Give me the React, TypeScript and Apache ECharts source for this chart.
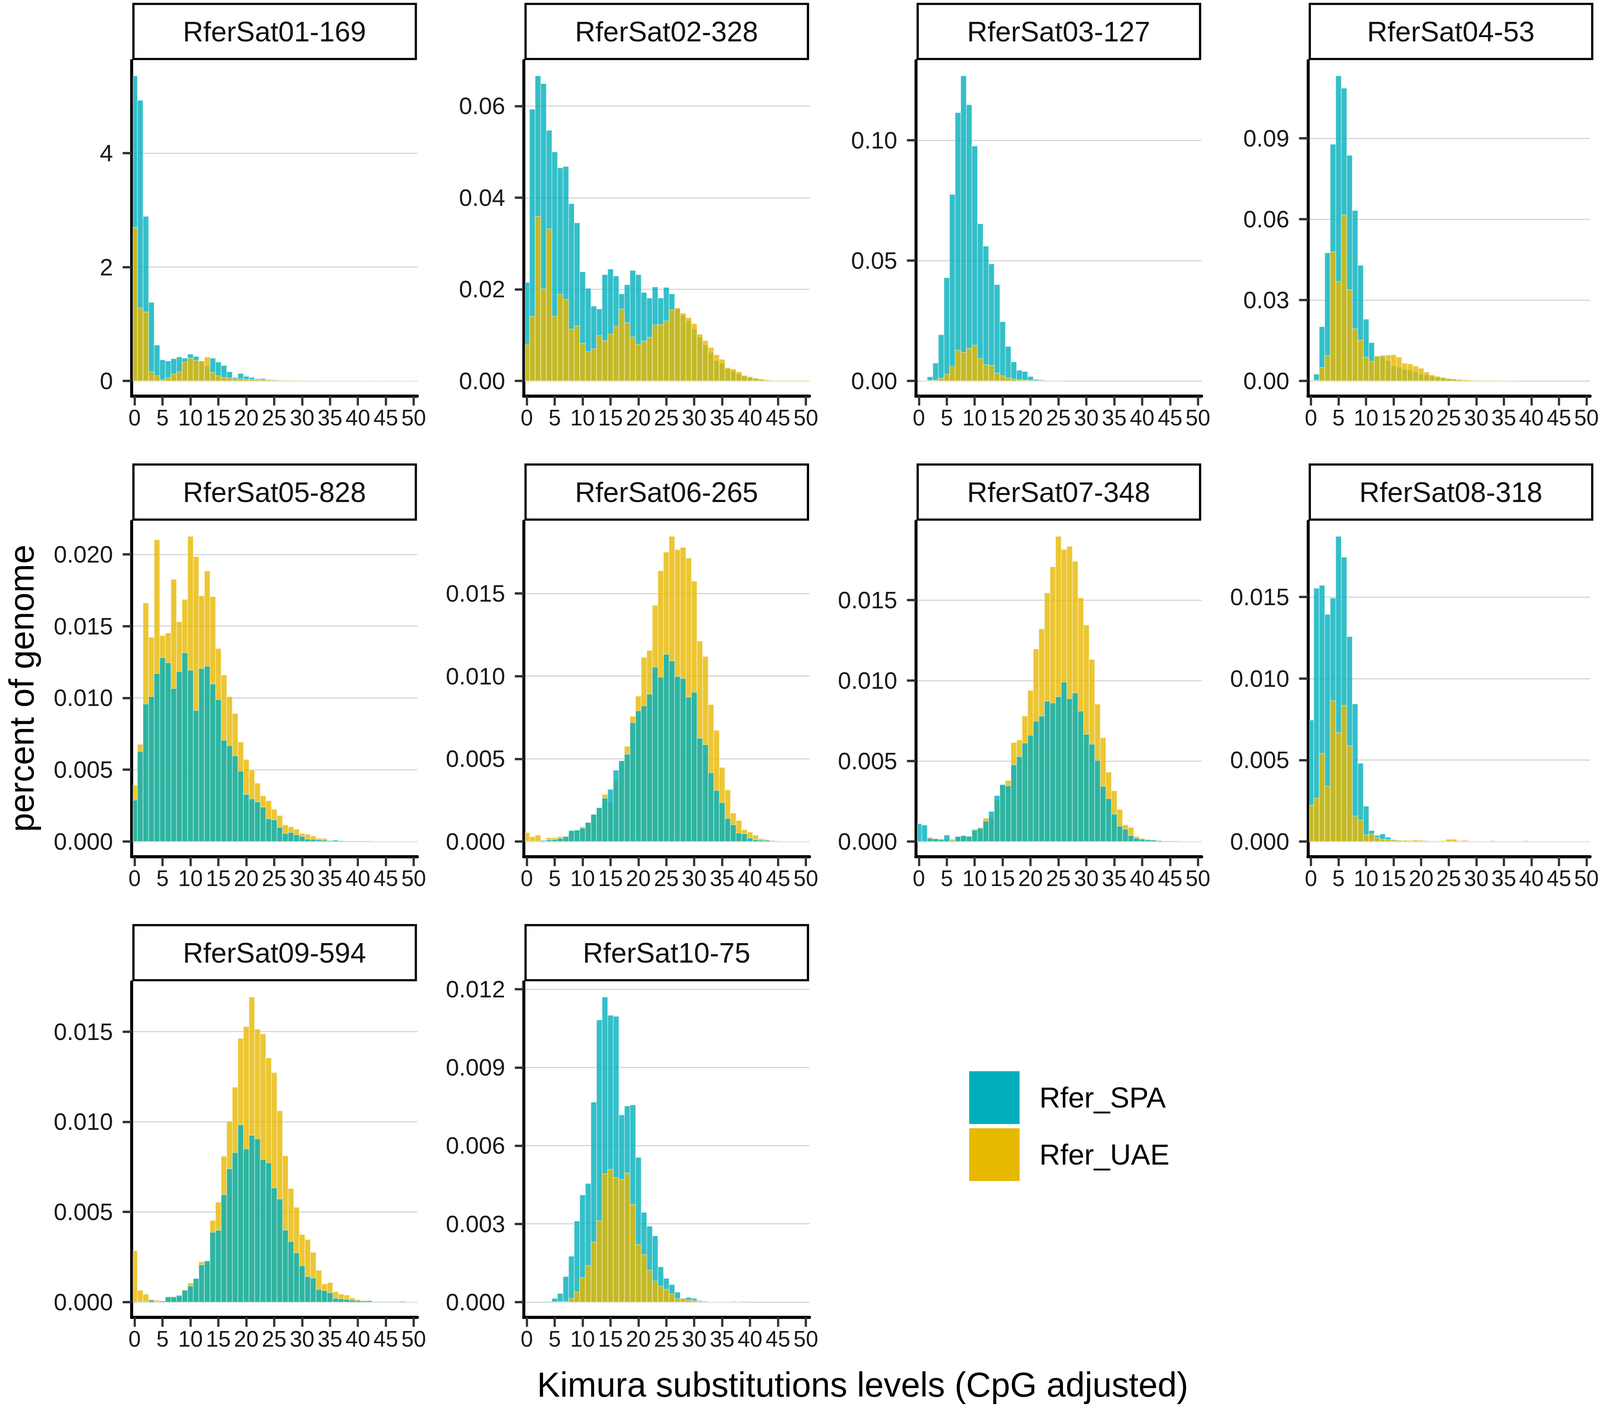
import React, { useEffect, useRef } from "react";
import * as echarts from "echarts";

// ---------- data ----------
const TITLES = [
  "RferSat01-169", "RferSat02-328", "RferSat03-127", "RferSat04-53", "RferSat05-828",
  "RferSat06-265", "RferSat07-348", "RferSat08-318", "RferSat09-594", "RferSat10-75",
];
const SERIES_NAMES = ["Rfer_SPA", "Rfer_UAE"];
const BINS = [0, 1, 2, 3, 4, 5, 6, 7, 8, 9, 10, 11, 12, 13, 14, 15, 16, 17, 18, 19, 20, 21, 22, 23, 24, 25,
  26, 27, 28, 29, 30, 31, 32, 33, 34, 35, 36, 37, 38, 39, 40, 41, 42, 43, 44, 45, 46, 47, 48, 49, 50];
const X_TICKS = [0, 5, 10, 15, 20, 25, 30, 35, 40, 45, 50];

const SAT01_SPA = [5.36, 4.93, 2.89, 1.38, 0.63, 0.37, 0.35, 0.39, 0.42, 0.40,
  0.47, 0.43, 0.35, 0.26, 0.40, 0.33, 0.27, 0.16, 0.06, 0.13,
  0.08, 0.06, 0.035, 0.04, 0.025, 0.02, 0.015, 0.012, 0.01, 0.007,
  0.005, 0.004, 0.003, 0.003, 0.002, 0.002, 0.002, 0.001, 0.001, 0.001,
  0.001, 0.001, 0.001, 0.001, 0.001, 0.001, 0.001, 0.001, 0.001, 0.001, 0.001];
const SAT01_UAE = [2.70, 1.28, 1.21, 0.16, 0.09, 0.02, 0.06, 0.12, 0.16, 0.33,
  0.40, 0.36, 0.35, 0.42, 0.15, 0.09, 0.06, 0.05, 0.04, 0.04,
  0.03, 0.025, 0.02, 0.02, 0.015, 0.012, 0.01, 0.008, 0.006, 0.005,
  0.004, 0.003, 0.003, 0.002, 0.002, 0.002, 0.001, 0.001, 0.001, 0.001,
  0.001, 0.001, 0.001, 0.001, 0.001, 0.001, 0.001, 0.001, 0.001, 0.001, 0.001];
const SAT01_YTICKS = [0, 2, 4];

const SAT02_SPA = [0.0215, 0.0593, 0.0666, 0.0649, 0.0547, 0.0500, 0.0465, 0.0468, 0.0387, 0.0345,
  0.0238, 0.0202, 0.0163, 0.0157, 0.0232, 0.0244, 0.0229, 0.0190, 0.0210, 0.0241,
  0.0232, 0.0193, 0.0181, 0.0205, 0.0181, 0.0204, 0.0190, 0.0158, 0.0143, 0.0131,
  0.0113, 0.0095, 0.0078, 0.0062, 0.0044, 0.0038, 0.0026, 0.0021, 0.0015, 0.0010,
  0.0007, 0.0005, 0.0003, 0.0002, 0.0001, 0.0001, 0.0001, 0.0001, 0.0001, 0.0001, 0.0001];
const SAT02_UAE = [0.0080, 0.0141, 0.0359, 0.0201, 0.0332, 0.0141, 0.0189, 0.0178, 0.0113, 0.0120,
  0.0082, 0.0064, 0.0070, 0.0099, 0.0088, 0.0102, 0.0119, 0.0157, 0.0127, 0.0096,
  0.0080, 0.0087, 0.0095, 0.0122, 0.0123, 0.0131, 0.0155, 0.0159, 0.0148, 0.0138,
  0.0125, 0.0102, 0.0088, 0.0073, 0.0057, 0.0047, 0.0029, 0.0026, 0.0020, 0.0012,
  0.0009, 0.0006, 0.0004, 0.0002, 0.0001, 0.0001, 0.0001, 0.0001, 0.0001, 0.0001, 0.0001];
const SAT02_YTICKS = [0, 0.02, 0.04, 0.06];

const SAT03_SPA = [0, 0.0002, 0.0017, 0.0074, 0.0192, 0.0429, 0.0775, 0.1115, 0.1268, 0.1148,
  0.0976, 0.0653, 0.0560, 0.0486, 0.0400, 0.0246, 0.0143, 0.0079, 0.0044, 0.0039,
  0.0018, 0.0006, 0.0004, 0.0002, 0.0002, 0.0001, 0.0001, 0, 0, 0,
  0, 0, 0, 0, 0, 0, 0, 0, 0, 0,
  0, 0, 0, 0, 0, 0, 0, 0, 0, 0, 0];
const SAT03_UAE = [0, 0.0001, 0.0002, 0.0003, 0.0011, 0.0027, 0.0061, 0.0127, 0.0119, 0.0135,
  0.0148, 0.0093, 0.0067, 0.0064, 0.0033, 0.0021, 0.0012, 0.0008, 0.0004, 0.0003,
  0.0002, 0.0001, 0.0001, 0.0001, 0.0001, 0.0001, 0, 0, 0, 0,
  0, 0, 0, 0, 0, 0, 0, 0, 0, 0,
  0, 0, 0, 0, 0, 0, 0, 0, 0, 0, 0];
const SAT03_YTICKS = [0, 0.05, 0.1];

const SAT04_SPA = [0, 0.0025, 0.0201, 0.0475, 0.0878, 0.1132, 0.1086, 0.0837, 0.0632, 0.0429,
  0.0229, 0.0142, 0.0092, 0.0094, 0.0075, 0.0055, 0.0050, 0.0042, 0.0039, 0.0033,
  0.0026, 0.0022, 0.0017, 0.0013, 0.0010, 0.0008, 0.0006, 0.0004, 0.0003, 0.0002,
  0.0002, 0.0001, 0.0001, 0.0001, 0.0001, 0.0001, 0, 0, 0, 0,
  0, 0, 0, 0, 0, 0, 0, 0, 0, 0, 0];
const SAT04_UAE = [0, 0.0002, 0.0050, 0.0094, 0.0479, 0.0369, 0.0616, 0.0338, 0.0193, 0.0151,
  0.0088, 0.0072, 0.0092, 0.0091, 0.0096, 0.0097, 0.0088, 0.0066, 0.0063, 0.0055,
  0.0047, 0.0033, 0.0022, 0.0017, 0.0013, 0.0009, 0.0007, 0.0005, 0.0004, 0.0003,
  0.0002, 0.0002, 0.0002, 0.0002, 0.0001, 0.0001, 0.0001, 0.0001, 0, 0,
  0, 0, 0, 0, 0, 0, 0, 0, 0, 0, 0];
const SAT04_YTICKS = [0, 0.03, 0.06, 0.09];

const SAT05_SPA = [0.00288, 0.00628, 0.00958, 0.01009, 0.01170, 0.01280, 0.01245, 0.01066, 0.01184, 0.01314,
  0.01193, 0.00913, 0.01205, 0.01220, 0.01097, 0.00988, 0.00705, 0.00667, 0.00597, 0.00490,
  0.00328, 0.00297, 0.00276, 0.00240, 0.00158, 0.00151, 0.00099, 0.00056, 0.00063, 0.00047,
  0.00035, 0.00017, 0.00016, 0.00012, 0.00010, 0.00005, 0.00009, 0.00005, 0.00003, 0.00003,
  0.00003, 0.00003, 0.00003, 0.00001, 0.00001, 0.00001, 0.00001, 0.00001, 0.00001, 0.00001, 0.00001];
const SAT05_UAE = [0.00392, 0.00677, 0.01661, 0.01422, 0.02102, 0.01434, 0.01453, 0.01826, 0.01531, 0.01686,
  0.02125, 0.01984, 0.01712, 0.01885, 0.01705, 0.01344, 0.01160, 0.01009, 0.00892, 0.00693,
  0.00571, 0.00497, 0.00406, 0.00319, 0.00285, 0.00224, 0.00181, 0.00116, 0.00102, 0.00085,
  0.00056, 0.00050, 0.00038, 0.00023, 0.00021, 0.00008, 0.00005, 0.00004, 0.00003, 0.00003,
  0.00003, 0.00003, 0.00003, 0.00001, 0.00001, 0.00001, 0.00001, 0.00001, 0.00001, 0.00001, 0.00001];
const SAT05_YTICKS = [0, 0.005, 0.01, 0.015, 0.02];

const SAT06_SPA = [0.00003, 0.00002, 0.00002, 0.00006, 0.00009, 0.00011, 0.00018, 0.00030, 0.00066, 0.00069,
  0.00081, 0.00115, 0.00164, 0.00204, 0.00262, 0.00315, 0.00431, 0.00488, 0.00528, 0.00719,
  0.00790, 0.00820, 0.00891, 0.01054, 0.00994, 0.01132, 0.01092, 0.00998, 0.00986, 0.00873,
  0.00903, 0.00624, 0.00586, 0.00416, 0.00308, 0.00235, 0.00139, 0.00101, 0.00051, 0.00047,
  0.00021, 0.00011, 0.00008, 0.00007, 0.00004, 0.00002, 0.00001, 0.00001, 0.00001, 0.00001, 0.00001];
const SAT06_UAE = [0.00054, 0.00029, 0.00039, 0.00006, 0.00023, 0.00023, 0.00030, 0.00030, 0.00063, 0.00069,
  0.00089, 0.00115, 0.00164, 0.00204, 0.00285, 0.00235, 0.00371, 0.00488, 0.00576, 0.00757,
  0.00879, 0.01114, 0.01156, 0.01428, 0.01637, 0.01750, 0.01845, 0.01765, 0.01779, 0.01714,
  0.01574, 0.01212, 0.01119, 0.00828, 0.00672, 0.00448, 0.00312, 0.00172, 0.00127, 0.00072,
  0.00057, 0.00038, 0.00017, 0.00012, 0.00006, 0.00004, 0.00002, 0.00002, 0.00002, 0.00002, 0.00002];
const SAT06_YTICKS = [0, 0.005, 0.01, 0.015];

const SAT07_SPA = [0.00111, 0.00102, 0.00019, 0.00017, 0.00012, 0.00040, 0.00006, 0.00031, 0.00036, 0.00032,
  0.00071, 0.00082, 0.00127, 0.00187, 0.00285, 0.00354, 0.00346, 0.00476, 0.00527, 0.00612,
  0.00660, 0.00748, 0.00779, 0.00872, 0.00861, 0.00900, 0.00991, 0.00888, 0.00923, 0.00810,
  0.00666, 0.00605, 0.00504, 0.00343, 0.00266, 0.00169, 0.00096, 0.00076, 0.00036, 0.00020,
  0.00014, 0.00011, 0.00009, 0.00005, 0.00003, 0.00003, 0.00003, 0.00001, 0.00001, 0.00001, 0.00001];
const SAT07_UAE = [0.00010, 0.00001, 0.00026, 0.00015, 0.00017, 0.00015, 0.00014, 0.00030, 0.00036, 0.00032,
  0.00077, 0.00088, 0.00145, 0.00145, 0.00258, 0.00349, 0.00380, 0.00615, 0.00631, 0.00779,
  0.00939, 0.01197, 0.01321, 0.01545, 0.01707, 0.01896, 0.01815, 0.01834, 0.01741, 0.01514,
  0.01345, 0.01132, 0.00854, 0.00645, 0.00431, 0.00315, 0.00199, 0.00104, 0.00088, 0.00032,
  0.00020, 0.00014, 0.00010, 0.00007, 0.00004, 0.00004, 0.00004, 0.00002, 0.00002, 0.00002, 0.00002];
const SAT07_YTICKS = [0, 0.005, 0.01, 0.015];

const SAT08_SPA = [0.00745, 0.01554, 0.01572, 0.01393, 0.01494, 0.01872, 0.01745, 0.01257, 0.00844, 0.00480,
  0.00216, 0.00067, 0.00037, 0.00046, 0.00026, 0.00012, 0.00008, 0.00006, 0.00005, 0.00004,
  0.00004, 0.00003, 0.00002, 0.00002, 0.00002, 0.00002, 0.00002, 0.00002, 0.00002, 0.00002,
  0.00002, 0.00002, 0.00002, 0.00001, 0.00001, 0.00001, 0.00001, 0.00001, 0.00001, 0.00001,
  0.00001, 0.00001, 0.00001, 0.00001, 0.00001, 0.00001, 0.00001, 0.00001, 0.00001, 0.00001, 0.00001];
const SAT08_UAE = [0.00223, 0.00266, 0.00541, 0.00339, 0.00865, 0.00668, 0.00835, 0.00587, 0.00156, 0.00131,
  0.00041, 0.00047, 0.00024, 0.00015, 0.00012, 0.00009, 0.00007, 0.00007, 0.00006, 0.00009,
  0.00007, 0.00005, 0.00003, 0.00003, 0.00005, 0.00014, 0.00014, 0.00005, 0.00007, 0.00003,
  0.00002, 0.00002, 0.00002, 0.00005, 0.00002, 0.00002, 0.00002, 0.00002, 0.00002, 0.00005,
  0.00001, 0.00001, 0.00001, 0.00001, 0.00001, 0.00001, 0.00001, 0.00001, 0.00001, 0.00001, 0.00001];
const SAT08_YTICKS = [0, 0.005, 0.01, 0.015];

const SAT09_SPA = [0.00004, 0.00002, 0.00002, 0.00010, 0.00003, 0.00005, 0.00029, 0.00028, 0.00037, 0.00065,
  0.00090, 0.00131, 0.00207, 0.00229, 0.00387, 0.00398, 0.00595, 0.00740, 0.00829, 0.00983,
  0.00849, 0.00925, 0.00905, 0.00791, 0.00772, 0.00633, 0.00572, 0.00399, 0.00336, 0.00273,
  0.00202, 0.00142, 0.00133, 0.00070, 0.00064, 0.00052, 0.00021, 0.00018, 0.00015, 0.00011,
  0.00008, 0.00007, 0.00008, 0.00003, 0.00003, 0.00003, 0.00003, 0.00002, 0.00004, 0.00001, 0.00001];
const SAT09_UAE = [0.00285, 0.00066, 0.00044, 0.00015, 0.00010, 0.00007, 0.00029, 0.00032, 0.00030, 0.00069,
  0.00106, 0.00128, 0.00224, 0.00225, 0.00453, 0.00554, 0.00809, 0.01003, 0.01192, 0.01463,
  0.01528, 0.01692, 0.01514, 0.01488, 0.01354, 0.01273, 0.01061, 0.00812, 0.00630, 0.00526,
  0.00374, 0.00347, 0.00276, 0.00177, 0.00101, 0.00108, 0.00058, 0.00044, 0.00039, 0.00023,
  0.00014, 0.00009, 0.00006, 0.00003, 0.00003, 0.00003, 0.00003, 0.00004, 0.00002, 0.00001, 0.00001];
const SAT09_YTICKS = [0, 0.005, 0.01, 0.015];

const SAT10_SPA = [0, 0, 0, 0.00002, 0.00002, 0.00014, 0.00033, 0.00098, 0.00176, 0.00311,
  0.00411, 0.00455, 0.00767, 0.01082, 0.01170, 0.01100, 0.01096, 0.00718, 0.00752, 0.00756,
  0.00555, 0.00344, 0.00291, 0.00254, 0.00135, 0.00091, 0.00067, 0.00038, 0.00014, 0.00018,
  0.00014, 0.00006, 0.00004, 0.00001, 0.00001, 0.00001, 0.00001, 0.00001, 0.00001, 0.00001,
  0, 0, 0, 0, 0, 0, 0, 0, 0, 0, 0];
const SAT10_UAE = [0, 0, 0, 0, 0, 0.00001, 0.00002, 0.00002, 0.00014, 0.00039,
  0.00094, 0.00140, 0.00230, 0.00312, 0.00492, 0.00509, 0.00478, 0.00470, 0.00495, 0.00375,
  0.00221, 0.00182, 0.00122, 0.00081, 0.00061, 0.00049, 0.00031, 0.00013, 0.00014, 0.00008,
  0.00006, 0.00003, 0.00003, 0.00001, 0.00001, 0.00001, 0.00001, 0.00003, 0.00001, 0.00003,
  0, 0, 0, 0, 0, 0, 0, 0, 0, 0, 0];
const SAT10_YTICKS = [0, 0.003, 0.006, 0.009, 0.012];

const Y_DECIMALS = [0, 2, 2, 2, 3, 3, 3, 3, 3, 3];
const SPA_ON_TOP = [false, false, false, false, true, true, true, false, true, false];

const PANELS = [
  { spa: SAT01_SPA, uae: SAT01_UAE, ticks: SAT01_YTICKS },
  { spa: SAT02_SPA, uae: SAT02_UAE, ticks: SAT02_YTICKS },
  { spa: SAT03_SPA, uae: SAT03_UAE, ticks: SAT03_YTICKS },
  { spa: SAT04_SPA, uae: SAT04_UAE, ticks: SAT04_YTICKS },
  { spa: SAT05_SPA, uae: SAT05_UAE, ticks: SAT05_YTICKS },
  { spa: SAT06_SPA, uae: SAT06_UAE, ticks: SAT06_YTICKS },
  { spa: SAT07_SPA, uae: SAT07_UAE, ticks: SAT07_YTICKS },
  { spa: SAT08_SPA, uae: SAT08_UAE, ticks: SAT08_YTICKS },
  { spa: SAT09_SPA, uae: SAT09_UAE, ticks: SAT09_YTICKS },
  { spa: SAT10_SPA, uae: SAT10_UAE, ticks: SAT10_YTICKS },
];

// ---------- style / layout (reference pixel units, scaled to the viewport) ----------
const W = 4317;
const H = 3604;
const FONT = "'Liberation Sans', Arial, Helvetica, sans-serif";
const SPA_COLOR = "#00AFBB";
const UAE_COLOR = "#E7B800";
const SPA_FILL = "rgba(0,175,187,0.8)";
const UAE_FILL = "rgba(231,184,0,0.8)";
const COL_LEFT = [355, 1413, 2471, 3529];
const ROW_TOP = [155, 1334, 2513];
const PW = 771;
const PH = 859;
const X_MIN = -0.55;
const X_MAX = 50.65;

function makeRenderItem(fill: string, sx: number, sm: number) {
  return (params: any, api: any) => {
    const x = api.value(0);
    const v = api.value(1);
    if (!(v > 0)) return null;
    const p0 = api.coord([x - 0.5, 0]);
    const p1 = api.coord([x + 0.5, v]);
    const cs = params.coordSys;
    const left = Math.max(p0[0], cs.x + 4 * sx);
    const right = Math.min(p1[0], cs.x + cs.width);
    return {
      type: "rect",
      shape: { x: left, y: p1[1], width: right - left, height: p0[1] - p1[1] },
      style: { fill, stroke: "rgba(255,255,255,0.55)", lineWidth: 1.5 * sm },
    };
  };
}

function buildOption(sx: number, sy: number) {
  const sm = Math.min(sx, sy);
  const kx = (v: number) => v * sx;
  const ky = (v: number) => v * sy;
  const kf = (v: number) => v * sm;
  const grid: any[] = [];
  const xAxis: any[] = [];
  const yAxis: any[] = [];
  const series: any[] = [];
  const graphic: any[] = [];

  PANELS.forEach((p, i) => {
    const L = COL_LEFT[i % 4];
    const T = ROW_TOP[Math.floor(i / 4)];
    const M = Math.max(...p.spa, ...p.uae);
    const step = p.ticks[1] - p.ticks[0];
    const dec = Y_DECIMALS[i];
    grid.push({ left: kx(L), top: ky(T), width: kx(PW), height: ky(PH) });
    xAxis.push({
      type: "value",
      gridIndex: i,
      min: X_MIN,
      max: X_MAX,
      minInterval: 5,
      maxInterval: 5,
      axisLine: { show: true, onZero: false, lineStyle: { color: "#000", width: ky(8) } },
      axisTick: { show: true, length: ky(24), customValues: X_TICKS, lineStyle: { color: "#333", width: kx(6) } },
      axisLabel: {
        show: true,
        customValues: X_TICKS,
        fontSize: kf(60),
        color: "#1a1a1a",
        fontFamily: FONT,
        margin: ky(26),
        formatter: (v: number) => String(Math.round(v)),
      },
      splitLine: { show: false },
    });
    yAxis.push({
      type: "value",
      gridIndex: i,
      min: -0.05 * M,
      max: 1.05 * M,
      minInterval: step,
      maxInterval: step,
      axisLine: { show: true, onZero: false, lineStyle: { color: "#000", width: kx(8) } },
      axisTick: { show: true, length: kx(24), customValues: p.ticks, lineStyle: { color: "#333", width: ky(6) } },
      axisLabel: {
        show: true,
        customValues: p.ticks,
        fontSize: kf(64),
        color: "#1a1a1a",
        fontFamily: FONT,
        margin: kx(50),
        formatter: (v: number) => v.toFixed(dec),
      },
      splitLine: { show: true, lineStyle: { color: "#cfcfcf", width: ky(2.5) } },
    });
    const spaSeries = {
      type: "custom",
      name: SERIES_NAMES[0],
      xAxisIndex: i,
      yAxisIndex: i,
      itemStyle: { color: SPA_FILL },
      renderItem: makeRenderItem(SPA_FILL, sx, sm),
      encode: { x: 0, y: 1 },
      data: BINS.map((b, j) => [b, p.spa[j]]),
      z: SPA_ON_TOP[i] ? 3 : 2,
      silent: true,
    };
    const uaeSeries = {
      type: "custom",
      name: SERIES_NAMES[1],
      xAxisIndex: i,
      yAxisIndex: i,
      itemStyle: { color: UAE_FILL },
      renderItem: makeRenderItem(UAE_FILL, sx, sm),
      encode: { x: 0, y: 1 },
      data: BINS.map((b, j) => [b, p.uae[j]]),
      z: SPA_ON_TOP[i] ? 2 : 3,
      silent: true,
    };
    if (SPA_ON_TOP[i]) series.push(uaeSeries, spaSeries);
    else series.push(spaSeries, uaeSeries);

    graphic.push({
      type: "rect",
      shape: { x: kx(L + 5), y: ky(T - 145), width: kx(PW - 9), height: ky(141) },
      style: { fill: "#fff", stroke: "#000", lineWidth: kf(6) },
      silent: true,
    });
    graphic.push({
      type: "text",
      x: kx(L + PW / 2),
      y: ky(T - 74),
      style: {
        text: TITLES[i],
        fontSize: kf(76),
        fontFamily: FONT,
        fill: "#111",
        align: "center",
        verticalAlign: "middle",
      },
      silent: true,
    });
  });

  graphic.push({
    type: "text",
    x: kx((COL_LEFT[0] + COL_LEFT[3] + PW) / 2),
    y: ky(3544),
    style: {
      text: "Kimura substitutions levels (CpG adjusted)",
      fontSize: kf(93),
      fontFamily: FONT,
      fill: "#000",
      align: "center",
      verticalAlign: "middle",
    },
    silent: true,
  });
  graphic.push({
    type: "text",
    x: kx(58),
    y: ky(1762),
    rotation: Math.PI / 2,
    style: {
      text: "percent of genome",
      fontSize: kf(93),
      fontFamily: FONT,
      fill: "#000",
      align: "center",
      verticalAlign: "middle",
    },
    silent: true,
  });

  return {
    animation: false,
    backgroundColor: "#ffffff",
    textStyle: { fontFamily: FONT },
    grid,
    xAxis,
    yAxis,
    series,
    graphic,
    legend: {
      orient: "vertical",
      left: kx(2615),
      top: ky(2742),
      padding: 0,
      itemGap: ky(11),
      itemWidth: kx(136),
      itemHeight: ky(135),
      icon: "rect",
      selectedMode: false,
      data: [
        { name: SERIES_NAMES[0], itemStyle: { color: SPA_COLOR, opacity: 1, borderWidth: 0 } },
        { name: SERIES_NAMES[1], itemStyle: { color: UAE_COLOR, opacity: 1, borderWidth: 0 } },
      ],
      textStyle: { fontSize: kf(78), color: "#000", fontFamily: FONT, padding: [0, 0, 0, kx(48)] },
    },
  };
}

export default function App() {
  const ref = useRef<HTMLDivElement | null>(null);
  useEffect(() => {
    if (!ref.current) return;
    document.body.style.margin = "0";
    document.documentElement.style.overflow = "hidden";
    document.body.style.overflow = "hidden";
    const vw = window.innerWidth || W;
    const vh = window.innerHeight || H;
    const sx = vw / W;
    const sy = vh / H;
    const el = ref.current;
    const cw = Math.floor(W * sx);
    const ch = Math.floor(H * sy);
    el.style.width = `${cw}px`;
    el.style.height = `${ch}px`;
    const chart = echarts.init(el, undefined, { renderer: "svg", width: cw, height: ch });
    chart.setOption(buildOption(sx, sy) as any);
    return () => {
      chart.dispose();
    };
  }, []);
  return (
    <div
      ref={ref}
      style={{ position: "absolute", left: 0, top: 0, width: 1000, height: 800, background: "#fff" }}
    />
  );
}
